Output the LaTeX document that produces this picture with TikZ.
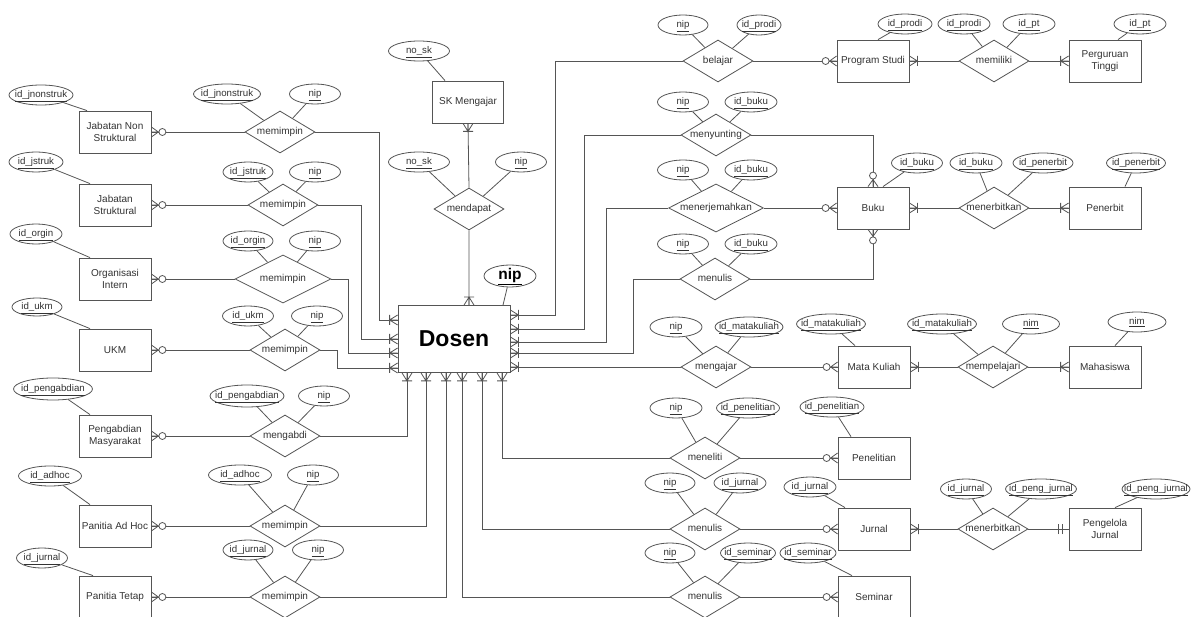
\documentclass[tikz,border=0pt]{standalone}
\usepackage{fontspec}
\setmainfont{Liberation Sans}
\usetikzlibrary{shapes.geometric,calc}
\definecolor{erline}{HTML}{555555}
\definecolor{ertext}{HTML}{333333}
\newcommand{\idtxt}[1]{\makebox[0pt]{\underline{#1}}}
\newcommand{\reltxt}[1]{\makebox[0pt]{#1}}
\tikzset{
  ent/.style={draw, fill=white, minimum width=72, minimum height=42, inner sep=2pt, align=center, text=ertext, font=\fontsize{10}{12}\selectfont},
  rel/.style={diamond, draw, fill=white, minimum width=70, minimum height=42, inner sep=0pt, text height=7pt, text depth=2pt, text=ertext, font=\fontsize{10}{12}\selectfont},
  attr/.style={ellipse, draw, fill=white, minimum width=#1, minimum height=20, inner sep=0pt, text height=7pt, text depth=2pt, text=ertext, font=\fontsize{9.7}{11}\selectfont},
  attr/.default=51,
  manyone/.pic={\draw (0,-5) -- (8,0) -- (0,5) (0,0) -- (8,0) (8,-5) -- (8,5);},
  manyopt/.pic={\draw (0,-5) -- (7,0) -- (0,5) (0,0) -- (8,0); \draw[fill=white] (11,0) circle (3.5pt);},
  oneone/.pic={\draw (6,-5) -- (6,5) (10,-5) -- (10,5);}
}

\begin{document}
\begin{tikzpicture}[x=1pt, y=-1pt, color=erline, line width=0.8pt]
  \clip (0,0) rectangle (1192,617);
  \fill[white] (0,0) rectangle (1192,617);

  \node[ent, minimum width=112, minimum height=67, text=black, font=\fontsize{23}{26}\selectfont\bfseries] (dosen) at (454,339) {Dosen};
  \node[attr=52, minimum height=22, text height=11pt, text depth=4.5pt, text=black, font=\fontsize{15.5}{18}\selectfont\bfseries] (dosen-key) at (510,276) {\idtxt{nip}};

  % left side
  \node[ent] (jabnon) at (115,132) {Jabatan Non\\Struktural};
  \node[attr=64] (jabnon-key) at (41,95) {\idtxt{id\_jnonstruk}};
  \node[rel] (rjabnon) at (280,132) {\reltxt{memimpin}};
  \node[attr=67] (rjabnon-a) at (227,94) {\idtxt{id\_jnonstruk}};
  \node[attr] (rjabnon-b) at (315,94) {\idtxt{nip}};

  \node[ent] (jabstr) at (115,205) {Jabatan\\Struktural};
  \node[attr=54] (jabstr-key) at (36,162) {\idtxt{id\_jstruk}};
  \node[rel] (rjabstr) at (283,205) {\reltxt{memimpin}};
  \node[attr=50] (rjabstr-a) at (248,172) {\idtxt{id\_jstruk}};
  \node[attr] (rjabstr-b) at (315,172) {\idtxt{nip}};

  \node[ent] (orgint) at (115,279) {Organisasi\\Intern};
  \node[attr=52] (orgint-key) at (36,234) {\idtxt{id\_orgin}};
  \node[rel, minimum width=96, minimum height=48] (rorgint) at (283,279) {\reltxt{memimpin}};
  \node[attr=50] (rorgint-a) at (248,241) {\idtxt{id\_orgin}};
  \node[attr] (rorgint-b) at (315,241) {\idtxt{nip}};

  \node[ent] (ukm) at (115,350) {UKM};
  \node[attr=50, minimum height=18] (ukm-key) at (37,307) {\idtxt{id\_ukm}};
  \node[rel] (rukm) at (285,350) {\reltxt{memimpin}};
  \node[attr] (rukm-a) at (248,316) {\idtxt{id\_ukm}};
  \node[attr] (rukm-b) at (317,316) {\idtxt{nip}};

  \node[ent] (pengabdian) at (115,436) {Pengabdian\\Masyarakat};
  \node[attr=79, minimum height=22] (pengabdian-key) at (53,389) {\idtxt{id\_pengabdian}};
  \node[rel] (rpengabdian) at (285,436) {\reltxt{mengabdi}};
  \node[attr=74, minimum height=22] (rpengabdian-a) at (247,396) {\idtxt{id\_pengabdian}};
  \node[attr] (rpengabdian-b) at (324,396) {\idtxt{nip}};

  \node[ent] (adhoc) at (115,526) {Panitia Ad Hoc};
  \node[attr=63] (adhoc-key) at (50,476) {\idtxt{id\_adhoc}};
  \node[rel] (radhoc) at (285,526) {\reltxt{memimpin}};
  \node[attr=63] (radhoc-a) at (240,475) {\idtxt{id\_adhoc}};
  \node[attr] (radhoc-b) at (313,475) {\idtxt{nip}};

  \node[ent] (tetap) at (115,597) {Panitia Tetap};
  \node[attr] (tetap-key) at (42,558) {\idtxt{id\_jurnal}};
  \node[rel] (rtetap) at (285,597) {\reltxt{memimpin}};
  \node[attr=50] (rtetap-a) at (248,550) {\idtxt{id\_jurnal}};
  \node[attr] (rtetap-b) at (318,550) {\idtxt{nip}};

  % top
  \node[ent, minimum width=71] (sk) at (468,102) {SK Mengajar};
  \node[attr=61] (sk-key) at (419,51) {\idtxt{no\_sk}};
  \node[rel] (rmendapat) at (469,209) {\reltxt{mendapat}};
  \node[attr=61] (rmendapat-a) at (419,162) {\idtxt{no\_sk}};
  \node[attr] (rmendapat-b) at (521,162) {\idtxt{nip}};

  % right side
  \node[ent] (prodi) at (873,61) {Program Studi};
  \node[attr=54] (prodi-key) at (905,24) {\idtxt{id\_prodi}};
  \node[rel] (rbelajar) at (718,61) {\reltxt{belajar}};
  \node[attr=50] (rbelajar-a) at (683,25) {\idtxt{nip}};
  \node[attr=44] (rbelajar-b) at (759,25) {\idtxt{id\_prodi}};
  \node[ent] (ptinggi) at (1105,61) {Perguruan\\Tinggi};
  \node[attr=52] (ptinggi-key) at (1140,24) {\idtxt{id\_pt}};
  \node[rel] (rmemiliki) at (994,61) {\reltxt{memiliki}};
  \node[attr=52] (rmemiliki-a) at (964,24) {\idtxt{id\_prodi}};
  \node[attr=52] (rmemiliki-b) at (1029,24) {\idtxt{id\_pt}};

  \node[ent] (buku) at (873,208) {Buku};
  \node[attr] (buku-key) at (917,163) {\idtxt{id\_buku}};
  \node[rel] (rmenyunting) at (716,135) {\reltxt{menyunting}};
  \node[attr] (rmenyunting-a) at (683,102) {\idtxt{nip}};
  \node[attr=52] (rmenyunting-b) at (751,102) {\idtxt{id\_buku}};
  \node[rel, minimum width=95, minimum height=48] (rmenerjemahkan) at (716,208) {\reltxt{menerjemahkan}};
  \node[attr] (rmenerjemahkan-a) at (683,170) {\idtxt{nip}};
  \node[attr=52] (rmenerjemahkan-b) at (751,170) {\idtxt{id\_buku}};
  \node[rel] (rmenulisbuku) at (715,279) {\reltxt{menulis}};
  \node[attr] (rmenulisbuku-a) at (683,244) {\idtxt{nip}};
  \node[attr=52] (rmenulisbuku-b) at (751,244) {\idtxt{id\_buku}};
  \node[ent] (penerbit) at (1105,208) {Penerbit};
  \node[attr=59] (penerbit-key) at (1136,163) {\idtxt{id\_penerbit}};
  \node[rel] (rmenerbitkan) at (994,208) {\reltxt{menerbitkan}};
  \node[attr=52] (rmenerbitkan-a) at (976,163) {\idtxt{id\_buku}};
  \node[attr=60] (rmenerbitkan-b) at (1043,163) {\idtxt{id\_penerbit}};

  \node[ent] (matkul) at (874,367) {Mata Kuliah};
  \node[attr=69] (matkul-key) at (831,324) {\idtxt{id\_matakuliah}};
  \node[rel] (rmengajar) at (716,367) {\reltxt{mengajar}};
  \node[attr=52] (rmengajar-a) at (676,327) {\idtxt{nip}};
  \node[attr=68] (rmengajar-b) at (749,327) {\idtxt{id\_matakuliah}};
  \node[ent] (mhs) at (1105,367) {Mahasiswa};
  \node[attr=58] (mhs-key) at (1137,322) {\idtxt{nim}};
  \node[rel] (rmempelajari) at (993,367) {\reltxt{mempelajari}};
  \node[attr=69] (rmempelajari-a) at (942,324) {\idtxt{id\_matakuliah}};
  \node[attr=57] (rmempelajari-b) at (1031,324) {\idtxt{nim}};

  \node[ent] (penelitian) at (874,458) {Penelitian};
  \node[attr=64] (penelitian-key) at (832,407) {\idtxt{id\_penelitian}};
  \node[rel] (rmeneliti) at (705,458) {\reltxt{meneliti}};
  \node[attr=52] (rmeneliti-a) at (676,408) {\idtxt{nip}};
  \node[attr=63] (rmeneliti-b) at (748,408) {\idtxt{id\_penelitian}};

  \node[ent] (jurnal) at (874,529) {Jurnal};
  \node[attr=52] (jurnal-key) at (810,487) {\idtxt{id\_jurnal}};
  \node[rel] (rmenulisjurnal) at (705,529) {\reltxt{menulis}};
  \node[attr=50] (rmenulisjurnal-a) at (670,483) {\idtxt{nip}};
  \node[attr=52] (rmenulisjurnal-b) at (740,483) {\idtxt{id\_jurnal}};
  \node[ent] (pengelola) at (1105,529) {Pengelola\\Jurnal};
  \node[attr=68] (pengelola-key) at (1156,489) {\idtxt{id\_peng\_jurnal}};
  \node[rel] (rmenerbitjurnal) at (993,529) {\reltxt{menerbitkan}};
  \node[attr] (rmenerbitjurnal-a) at (966,489) {\idtxt{id\_jurnal}};
  \node[attr=71] (rmenerbitjurnal-b) at (1041,489) {\idtxt{id\_peng\_jurnal}};

  \node[ent] (seminar) at (874,597) {Seminar};
  \node[attr=56] (seminar-key) at (808,553) {\idtxt{id\_seminar}};
  \node[rel] (rmenulisseminar) at (705,597) {\reltxt{menulis}};
  \node[attr=50] (rmenulisseminar-a) at (670,553) {\idtxt{nip}};
  \node[attr=55] (rmenulisseminar-b) at (748,553) {\idtxt{id\_seminar}};

  % attributes
  \foreach \r in {rjabnon,rjabstr,rorgint,rukm,rpengabdian,radhoc,rtetap,rmendapat,rbelajar,rmemiliki,rmenyunting,rmenerjemahkan,rmenulisbuku,rmenerbitkan,rmengajar,rmempelajari,rmeneliti,rmenulisjurnal,rmenerbitjurnal,rmenulisseminar}
    \draw (\r-a) -- (\r) (\r-b) -- (\r);
  \foreach \e/\s in {jabnon/-28,jabstr/-25,orgint/-25,ukm/-25,pengabdian/-25,adhoc/-25,tetap/-22,sk/-23,prodi/5,ptinggi/13,buku/10,penerbit/20,matkul/-19,mhs/10,penelitian/-23,jurnal/-29,pengelola/10,seminar/-22,dosen/49}
    \draw (\e-key) -- ([xshift=\s pt]\e.north);

  % relationships
  \foreach \e/\dx/\dy in {jabnon/-18/-19,jabstr/-36/0,orgint/-49/14,ukm/-60/29}
    \draw (\e.east) -- (r\e.west) (r\e.east) -| ($(dosen.west)+(\dx,\dy)$) -- ($(dosen.west)+(0,\dy)$);
  \foreach \e/\dx in {pengabdian/-47,adhoc/-28,tetap/-8}
    \draw (\e.east) -- (r\e.west) (r\e.east) -| ($(dosen.south)+(\dx,0)$);
  \foreach \r/\dx/\dy in {rbelajar/45/-24,rmenyunting/74/-10,rmenerjemahkan/96/3,rmenulisbuku/123/14,rmengajar/0/28}
    \draw (\r.west) -| ($(dosen.east)+(\dx,\dy)$) -- ($(dosen.east)+(0,\dy)$);
  \foreach \r/\dx in {rmeneliti/48,rmenulisjurnal/28,rmenulisseminar/8}
    \draw (\r.west) -| ($(dosen.south)+(\dx,0)$);
  \draw (rmendapat.north) -- (sk.south) (rmendapat.south) -- ($(dosen.north)+(15,0)$);
  \draw (rbelajar.east) -- (prodi.west) (prodi.east) -- (rmemiliki.west) (rmemiliki.east) -- (ptinggi.west);
  \draw (rmenyunting.east) -| (buku.north) (rmenerjemahkan.east) -- (buku.west) (rmenulisbuku.east) -| (buku.south);
  \draw (buku.east) -- (rmenerbitkan.west) (rmenerbitkan.east) -- (penerbit.west);
  \draw (rmengajar.east) -- (matkul.west) (matkul.east) -- (rmempelajari.west) (rmempelajari.east) -- (mhs.west);
  \draw (rmeneliti.east) -- (penelitian.west);
  \draw (rmenulisjurnal.east) -- (jurnal.west) (jurnal.east) -- (rmenerbitjurnal.west) (rmenerbitjurnal.east) -- (pengelola.west);
  \draw (rmenulisseminar.east) -- (seminar.west);

  % cardinality marks
  \foreach \e in {jabnon,jabstr,orgint,ukm,pengabdian,adhoc,tetap}
    \path (\e.east) pic {manyopt};
  \foreach \e in {prodi,buku,matkul,penelitian,jurnal,seminar}
    \path (\e.west) pic[rotate=180] {manyopt};
  \path (buku.north) pic[rotate=90] {manyopt} (buku.south) pic[rotate=-90] {manyopt};
  \foreach \e in {prodi,buku,matkul,jurnal}
    \path (\e.east) pic {manyone};
  \foreach \e in {ptinggi,penerbit,mhs}
    \path (\e.west) pic[rotate=180] {manyone};
  \path (pengelola.west) pic[rotate=180] {oneone} (sk.south) pic[rotate=-90] {manyone} ($(dosen.north)+(15,0)$) pic[rotate=90] {manyone};
  \foreach \dy in {-19,0,14,29}
    \path ($(dosen.west)+(0,\dy)$) pic[rotate=180] {manyone};
  \foreach \dy in {-24,-10,3,14,28}
    \path ($(dosen.east)+(0,\dy)$) pic {manyone};
  \foreach \dx in {-47,-28,-8,8,28,48}
    \path ($(dosen.south)+(\dx,0)$) pic[rotate=-90] {manyone};
\end{tikzpicture}
\end{document}
